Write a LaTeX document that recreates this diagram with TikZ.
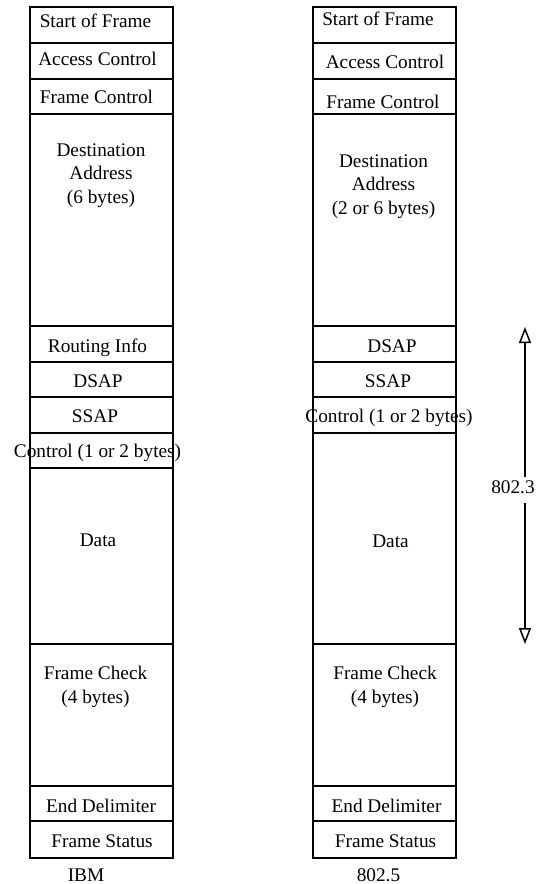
\documentclass[tikz,border=0pt]{standalone}
\usepackage{fontspec}
\setmainfont{Liberation Serif}
\usetikzlibrary{arrows.meta}
\begin{document}
\begin{tikzpicture}[x=1pt,y=-1pt,
  cell/.style={draw=black,line width=1.6pt},
  lbl/.style={font=\fontsize{19.3}{23.3}\selectfont,inner sep=0pt,anchor=base,align=center},
  dimarrow/.style={line width=1.5pt,-{Triangle[open,width=12pt,length=16pt,line width=1.5pt]}}]
\useasboundingbox (0,0) rectangle (541,884);

% IBM frame layout
\foreach \a/\b in {7/43,43/79,79/114,114/326,326/362,362/397,397/433,433/468,468/644,644/786,786/821,821/858}
  \draw[cell] (30,\a) rectangle (173,\b);
\node[lbl] (lsof) at (95.5,27) {Start of Frame};
\node[lbl] (lac)  at (97.5,65) {Access Control};
\node[lbl] (lfc)  at (96.5,103) {Frame Control};
% multi-line labels are placed by the baseline of their last line
\node[lbl] (lda)  at (101,203) {Destination\\Address\\(6 bytes)};
\node[lbl] (lri)  at (97.5,352) {Routing Info};
\node[lbl] (ldsap) at (98,387) {DSAP};
\node[lbl] (lssap) at (95,422) {SSAP};
\node[lbl] (lctl) at (97.5,457) {Control (1 or 2 bytes)};
\node[lbl] (ldata) at (98,546) {Data};
\node[lbl] (lfcs) at (95.5,703) {Frame Check\\(4 bytes)};
\node[lbl] (led)  at (101,812) {End Delimiter};
\node[lbl] (lfs)  at (102,847) {Frame Status};
\node[lbl] (libm) at (86,881) {IBM};

% 802.5 frame layout
\foreach \a/\b in {7/43,43/79,79/114,114/326,326/362,362/397,397/433,433/644,644/786,786/821,821/858}
  \draw[cell] (313,\a) rectangle (456,\b);
\node[lbl] (rsof) at (378,25.5) {Start of Frame};
\node[lbl] (rac)  at (385,68) {Access Control};
\node[lbl] (rfc)  at (383,108) {Frame Control};
\node[lbl] (rda)  at (383.5,214) {Destination\\Address\\(2 or 6 bytes)};
\node[lbl] (rdsap) at (392,352) {DSAP};
\node[lbl] (rssap) at (388,387) {SSAP};
\node[lbl] (rctl) at (389,422) {Control (1 or 2 bytes)};
\node[lbl] (rdata) at (390.5,547) {Data};
\node[lbl] (rfcs) at (385,703) {Frame Check\\(4 bytes)};
\node[lbl] (red)  at (386.5,812) {End Delimiter};
\node[lbl] (rfs)  at (385.5,847) {Frame Status};
\node[lbl] (r8025) at (378.5,881) {802.5};

% 802.3 span
\coordinate (atop) at (525,327);
\coordinate (abot) at (525,644);
\coordinate (gtop) at (525,477);
\coordinate (gbot) at (525,503);
\node[lbl] (l8023) at (513,493) {802.3};
\draw[dimarrow] (gtop) -- (atop);
\draw[dimarrow] (gbot) -- (abot);
\end{tikzpicture}
\end{document}
